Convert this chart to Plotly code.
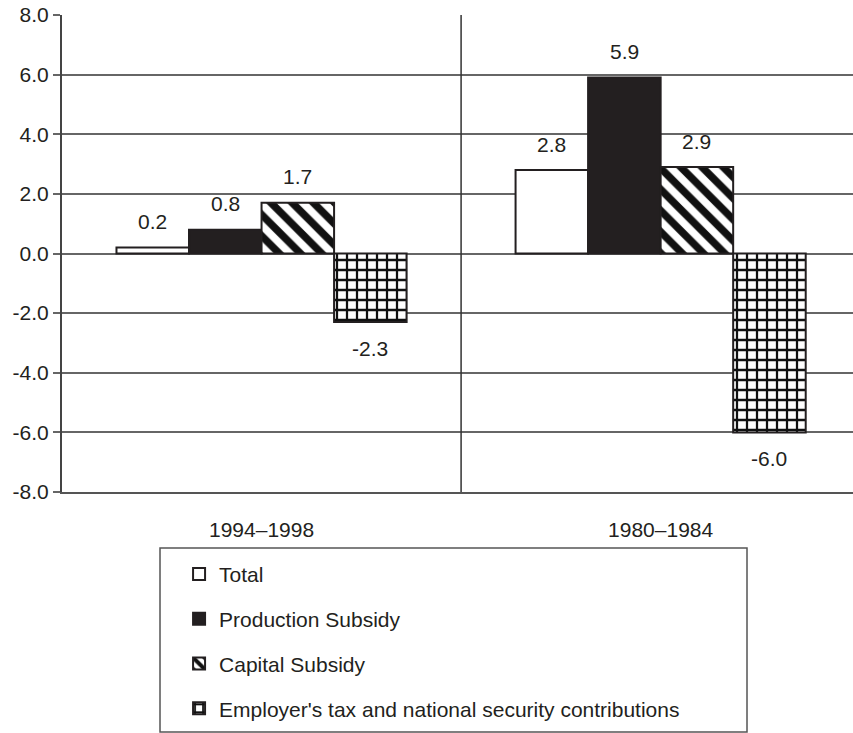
import plotly.graph_objects as go

# Periods and series values
periods = ["1994\u20131998", "1980\u20131984"]
series_names = [
    "Total",
    "Production Subsidy",
    "Capital Subsidy",
    "Employer's tax and national security contributions",
]
total = [0.2, 2.8]
production = [0.8, 5.9]
capital = [1.7, 2.9]
employer = [-2.3, -6.0]
y_ticks = [-8, -6, -4, -2, 0, 2, 4, 6, 8]
y_tick_text = [f"{v:.1f}" for v in y_ticks]  # plain hyphen for negatives

FONT = "Liberation Sans, Arial, sans-serif"
FS = 21
INK = "#231f20"
BARGAP = 0.273

values = [total, production, capital, employer]
styles = [
    dict(color="white"),
    dict(color=INK),
    dict(color="white", pattern=dict(shape="\\", fgcolor="#111111", bgcolor="white",
                                     fgopacity=1, size=15, solidity=0.5)),
    dict(color="white", pattern=dict(shape="+", fgcolor="#111111", bgcolor="white",
                                     fgopacity=1, size=10, solidity=0.4)),
]

xpos = list(range(len(periods)))
fig = go.Figure()
for i, (name, vals, st) in enumerate(zip(series_names, values, styles)):
    fig.add_trace(go.Bar(
        x=xpos, y=vals, name=name, legendgroup=f"g{i}",
        marker=dict(line=dict(color=INK, width=2), **st),
    ))

# Value labels placed beyond the end of each bar
n = len(series_names)
bw = (1 - BARGAP) / n
for i, vals in enumerate(values):
    for c, v in enumerate(vals):
        fig.add_annotation(
            x=c + (i - (n - 1) / 2) * bw, y=v, xref="x", yref="y",
            text=f"{v:.1f}", showarrow=False,
            yshift=26 if v >= 0 else -26,
            font=dict(family=FONT, size=FS, color=INK),
        )

# Divider between the two periods
fig.add_shape(type="line", xref="x", yref="y", x0=0.5, x1=0.5, y0=-8, y1=8,
              line=dict(color="#333333", width=1.5), layer="above")

# Legend frame
fig.add_shape(type="rect", xref="paper", yref="paper",
              x0=0.1239, x1=0.866, y0=-0.503, y1=-0.1174,
              line=dict(color="#555555", width=1.5), fillcolor="white", layer="below")

fig.update_layout(
    width=853, height=733,
    margin=dict(l=62, r=0, t=15, b=241, autoexpand=False),
    paper_bgcolor="white", plot_bgcolor="white",
    barmode="group", bargap=BARGAP, bargroupgap=0,
    font=dict(family=FONT, size=FS, color=INK),
    showlegend=True,
    legend=dict(
        x=0.148, y=-0.1295, xanchor="left", yanchor="top",
        bgcolor="rgba(0,0,0,0)", borderwidth=0,
        traceorder="grouped", tracegroupgap=14.5,
        font=dict(family=FONT, size=FS, color=INK),
    ),
    xaxis=dict(
        range=[-0.5, 1.482], tickvals=xpos, ticktext=periods,
        showgrid=False, zeroline=False,
        showline=True, linecolor="#555555", linewidth=2,
        ticks="outside", ticklen=18, tickcolor="rgba(0,0,0,0)",
        tickfont=dict(family=FONT, size=FS, color=INK),
        fixedrange=True,
    ),
    yaxis=dict(
        range=[-8, 8], tickvals=y_ticks, ticktext=y_tick_text,
        showgrid=True, gridcolor="#666666", gridwidth=1.5,
        zeroline=False, showline=True, linecolor="#444444", linewidth=2,
        ticks="outside", ticklen=7, tickcolor="#666666", tickwidth=1.5,
        tickfont=dict(family=FONT, size=FS, color=INK),
        fixedrange=True,
    ),
)

fig.write_html("out.html")
